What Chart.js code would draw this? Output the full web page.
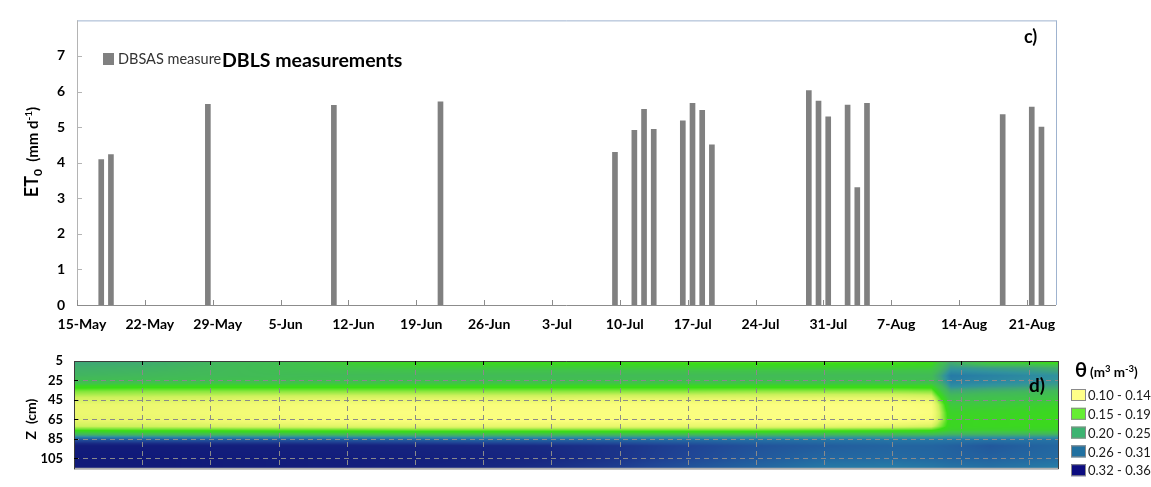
<!DOCTYPE html>
<html>
<head>
<meta charset="utf-8">
<title>ET0 and soil water content</title>
<script src="https://cdn.jsdelivr.net/npm/chart.js@4.4.1/dist/chart.umd.min.js"></script>
<style>
  html, body { margin: 0; padding: 0; background: #ffffff; }
  #wrap { position: relative; width: 1151px; height: 487px; overflow: hidden; }
  #etBox { position: absolute; left: 0; top: 0; width: 1151px; height: 340px; }
  #soilBox { position: absolute; left: 0; top: 340px; width: 1151px; height: 147px; }
</style>
</head>
<body>
<div id="wrap">
  <div id="etBox"><canvas id="etChart" width="1151" height="340"></canvas></div>
  <div id="soilBox"><canvas id="soilChart" width="1151" height="147"></canvas></div>
</div>
<script>
// ---------- dates (days counted from 15-May) ----------
const monthOffset = { May: -15, Jun: 16, Jul: 46, Aug: 77 };
function dayIndex(s) {
  const [d, m] = s.split('-');
  return monthOffset[m] + Number(d);
}
const periodDays = 101; // 15-May .. 23-Aug

// ---------- panel c: reference evapotranspiration ----------
const tickLabels = ['15-May', '22-May', '29-May', '5-Jun', '12-Jun', '19-Jun', '26-Jun', '3-Jul',
                    '10-Jul', '17-Jul', '24-Jul', '31-Jul', '7-Aug', '14-Aug', '21-Aug'];
const measureDates = ['17-May', '18-May', '28-May', '10-Jun', '21-Jun', '9-Jul', '11-Jul', '12-Jul',
                      '13-Jul', '16-Jul', '17-Jul', '18-Jul', '19-Jul', '29-Jul', '30-Jul', '31-Jul',
                      '2-Aug', '3-Aug', '4-Aug', '18-Aug', '21-Aug', '22-Aug'];
const et0Values = [4.09, 4.23, 5.64, 5.61, 5.71, 4.29, 4.91, 5.50,
                   4.94, 5.18, 5.67, 5.47, 4.50, 6.03, 5.73, 5.29,
                   5.62, 3.30, 5.67, 5.35, 5.56, 5.00];
const et0Ticks = [0, 1, 2, 3, 4, 5, 6, 7];

// ---------- panel d: soil water content θ (m3 m-3) ----------
const soilDays = [0, 7, 14, 21, 28, 35, 42, 49, 56, 63, 70, 77, 84, 88, 90, 94, 98, 101];
const soilDepths = [5, 12, 20, 27, 31, 36, 42, 50, 58, 66, 72, 76, 79, 82, 86, 92, 104, 115];
const theta05  = [.245, .240, .228, .215, .190, .178, .175, .172, .170, .165, .163, .163, .165, .170, .235, .178, .172, .158];
const theta12  = [.235, .232, .225, .215, .205, .200, .200, .200, .198, .195, .195, .195, .195, .197, .255, .250, .245, .235];
const theta20  = [.228, .225, .222, .220, .222, .222, .222, .222, .222, .222, .222, .222, .222, .222, .275, .270, .265, .260];
const theta27  = [.215, .212, .210, .210, .210, .210, .210, .210, .210, .210, .210, .210, .210, .212, .270, .265, .260, .255];
const theta31  = [.182, .180, .180, .180, .180, .180, .180, .180, .180, .180, .180, .180, .180, .182, .262, .255, .250, .245];
const theta36  = [.162, .160, .160, .160, .160, .160, .160, .160, .160, .160, .158, .158, .158, .160, .240, .232, .228, .222];
const theta42  = [.146, .145, .143, .141, .140, .140, .140, .140, .138, .138, .137, .135, .135, .138, .218, .212, .210, .205];
const theta50  = [.130, .128, .125, .120, .116, .114, .114, .114, .112, .112, .110, .108, .108, .115, .200, .198, .195, .190];
const theta58  = [.128, .126, .122, .118, .113, .110, .110, .110, .110, .110, .108, .106, .106, .112, .190, .188, .185, .182];
const theta66  = [.132, .130, .126, .120, .116, .114, .112, .112, .112, .112, .110, .110, .110, .118, .185, .183, .182, .180];
const theta72  = [.145, .143, .140, .138, .135, .133, .132, .132, .132, .132, .132, .132, .135, .140, .185, .183, .182, .182];
const theta76  = [.172, .170, .170, .168, .168, .165, .165, .165, .165, .165, .165, .168, .170, .172, .192, .192, .192, .192];
const theta79  = [.205, .200, .200, .198, .195, .195, .195, .195, .195, .195, .195, .200, .200, .200, .215, .215, .215, .215];
const theta82  = [.255, .250, .250, .250, .248, .245, .245, .245, .245, .245, .245, .245, .245, .245, .250, .250, .250, .250];
const theta86  = [.305, .300, .300, .300, .298, .295, .290, .290, .288, .285, .282, .280, .278, .278, .278, .280, .280, .280];
const theta92  = [.345, .345, .342, .340, .338, .335, .332, .328, .322, .312, .302, .295, .290, .290, .292, .298, .292, .288];
const theta104 = [.348, .348, .346, .344, .342, .340, .336, .330, .322, .310, .298, .288, .286, .288, .290, .292, .288, .285];
const theta115 = [.348, .348, .346, .344, .342, .338, .332, .325, .315, .300, .288, .275, .272, .275, .278, .280, .276, .272];
const thetaRows = [theta05, theta12, theta20, theta27, theta31, theta36, theta42, theta50, theta58,
                   theta66, theta72, theta76, theta79, theta82, theta86, theta92, theta104, theta115];
const depthTicks = [5, 25, 45, 65, 85, 105];
const classLabels = ['0.10 - 0.14', '0.15 - 0.19', '0.20 - 0.25', '0.26 - 0.31', '0.32 - 0.36'];
const classColors = ['#ffff88', '#66ee33', '#3cb371', '#2070a0', '#0c0c80'];

// continuous shading used for the θ surface
const shadeStops = [
  [0.100, 255, 255, 140], [0.115, 248, 253, 122], [0.130, 234, 247, 110], [0.145, 205, 241, 92],
  [0.160, 135, 231, 60],  [0.175, 58, 221, 22],   [0.190, 60, 210, 42],   [0.205, 64, 196, 72],
  [0.225, 66, 184, 90],   [0.245, 62, 164, 122],  [0.260, 48, 145, 158],  [0.275, 38, 122, 166],
  [0.290, 35, 100, 160],  [0.310, 32, 70, 150],   [0.330, 24, 40, 130],   [0.350, 16, 24, 120]
];
function shade(v) {
  if (v <= shadeStops[0][0]) return shadeStops[0].slice(1);
  for (let i = 1; i < shadeStops.length; i++) {
    const b = shadeStops[i];
    if (v <= b[0]) {
      const a = shadeStops[i - 1];
      const t = (v - a[0]) / (b[0] - a[0]);
      return [a[1] + t * (b[1] - a[1]), a[2] + t * (b[2] - a[2]), a[3] + t * (b[3] - a[3])];
    }
  }
  return shadeStops[shadeStops.length - 1].slice(1);
}

const FONT = 'Lato, "Open Sans", "DejaVu Sans", sans-serif';
const tickDays = tickLabels.map(dayIndex);

// draws a rotated axis title made of runs (normal / sub / superscript)
function verticalTitle(ctx, cx, cy, runs) {
  ctx.save();
  ctx.translate(cx, cy);
  ctx.rotate(-Math.PI / 2);
  let total = 0;
  runs.forEach(r => { ctx.font = r.font; r.w = ctx.measureText(r.text).width; total += r.w; });
  let x = -total / 2;
  ctx.fillStyle = '#000';
  ctx.textBaseline = 'alphabetic';
  ctx.textAlign = 'left';
  runs.forEach(r => { ctx.font = r.font; ctx.fillText(r.text, x, r.dy); x += r.w; });
  ctx.restore();
}
function seg(ctx, x1, y1, x2, y2) {
  ctx.beginPath(); ctx.moveTo(x1, y1); ctx.lineTo(x2, y2); ctx.stroke();
}

// ---------- panel c chart ----------
const etDecor = {
  id: 'etDecor',
  afterDraw(chart) {
    const { ctx, chartArea: a, scales: { x, y } } = chart;
    ctx.save();
    ctx.lineWidth = 1;
    ctx.strokeStyle = '#9fb3cf';
    seg(ctx, a.left, a.top + 0.5, a.right + 0.5, a.top + 0.5);
    seg(ctx, a.right + 0.5, a.top, a.right + 0.5, a.bottom);
    ctx.strokeStyle = '#b4b4b4';
    seg(ctx, a.left + 0.5, a.top, a.left + 0.5, a.bottom + 1);
    et0Ticks.forEach(v => { const p = Math.round(y.getPixelForValue(v)) + 0.5; seg(ctx, a.left, p, a.left + 5, p); });
    ctx.strokeStyle = '#8c8c8c';
    seg(ctx, a.left, a.bottom + 0.5, a.right, a.bottom + 0.5);
    tickDays.forEach(d => { const p = Math.round(x.getPixelForValue(d)) + 0.5; seg(ctx, p, a.bottom, p, a.bottom - 5); });

    // legend
    const ds = chart.data.datasets[0];
    ctx.fillStyle = ds.backgroundColor;
    ctx.fillRect(103, 53, 11, 12);
    ctx.textBaseline = 'middle';
    ctx.textAlign = 'left';
    ctx.font = '14.5px ' + FONT;
    ctx.fillStyle = '#333333';
    ctx.fillText(ds.label, 118, 59);
    ctx.font = 'bold 19.5px ' + FONT;
    ctx.fillStyle = '#000';
    ctx.fillText('DBLS measurements', 222, 61);
    ctx.font = 'bold 18px ' + FONT;
    ctx.fillText('c)', 1024, 37);

    verticalTitle(ctx, 38, 152, [
      { text: 'ET', font: 'bold 18px ' + FONT, dy: 0 },
      { text: '0', font: 'bold 12px ' + FONT, dy: 4 },
      { text: '  (mm d', font: 'bold 15px ' + FONT, dy: 0 },
      { text: '-1', font: 'bold 10px ' + FONT, dy: -6 },
      { text: ')', font: 'bold 15px ' + FONT, dy: 0 }
    ]);
    ctx.restore();
  }
};

new Chart(document.getElementById('etChart'), {
  type: 'bar',
  data: {
    datasets: [{
      label: 'DBSAS measure',
      data: measureDates.map((d, i) => ({ x: dayIndex(d) + 0.5, y: et0Values[i] })),
      backgroundColor: '#808080',
      borderWidth: 0,
      barThickness: 5
    }]
  },
  options: {
    responsive: false,
    devicePixelRatio: 1,
    animation: false,
    events: [],
    layout: { padding: { left: 0, right: 95, top: 11, bottom: 0 } },
    plugins: { legend: { display: false }, tooltip: { enabled: false } },
    scales: {
      x: {
        type: 'linear', min: 0, max: periodDays, offset: false,
        grid: { display: false, drawTicks: false },
        border: { display: false },
        afterBuildTicks: s => { s.ticks = tickDays.map(v => ({ value: v })); },
        afterFit: s => { s.height = 35; },
        ticks: {
          autoSkip: false, maxRotation: 0, padding: 11, labelOffset: 5,
          color: '#000', font: { family: FONT, weight: 'bold', size: 14 },
          callback: (v, i) => tickLabels[i]
        }
      },
      y: {
        min: 0, max: 8,
        grid: { display: false, drawTicks: false },
        border: { display: false },
        afterBuildTicks: s => { s.ticks = et0Ticks.map(v => ({ value: v })); },
        afterFit: s => { s.width = 77; },
        ticks: { padding: 12, color: '#000', font: { family: FONT, weight: 'bold', size: 14 } }
      }
    }
  },
  plugins: [etDecor]
});

// ---------- panel d chart ----------
const soilPoints = [];
soilDepths.forEach((z, j) => soilDays.forEach((d, i) => soilPoints.push({ x: d, y: z, v: thetaRows[j][i] })));

function bracket(arr, v) {
  let i = 0;
  while (i < arr.length - 2 && v > arr[i + 1]) i++;
  const t = Math.min(1, Math.max(0, (v - arr[i]) / (arr[i + 1] - arr[i])));
  return [i, t];
}

const soilMap = {
  id: 'soilMap',
  beforeDatasetsDraw(chart) {
    const { ctx, chartArea: a, scales: { x, y } } = chart;
    const pts = chart.data.datasets[0].data;
    const nc = soilDays.length;
    const w = Math.round(a.right - a.left), h = Math.round(a.bottom - a.top);
    const off = document.createElement('canvas');
    off.width = w; off.height = h;
    const octx = off.getContext('2d');
    const img = octx.createImageData(w, h);
    const cols = [];
    for (let px = 0; px < w; px++) cols.push(bracket(soilDays, x.getValueForPixel(a.left + px + 0.5)));
    for (let py = 0; py < h; py++) {
      const [j, u] = bracket(soilDepths, y.getValueForPixel(a.top + py + 0.5));
      for (let px = 0; px < w; px++) {
        const [i, t] = cols[px];
        const v00 = pts[j * nc + i].v, v01 = pts[j * nc + i + 1].v;
        const v10 = pts[(j + 1) * nc + i].v, v11 = pts[(j + 1) * nc + i + 1].v;
        const v = (v00 * (1 - t) + v01 * t) * (1 - u) + (v10 * (1 - t) + v11 * t) * u;
        const c = shade(v);
        const k = (py * w + px) * 4;
        img.data[k] = c[0]; img.data[k + 1] = c[1]; img.data[k + 2] = c[2]; img.data[k + 3] = 255;
      }
    }
    octx.putImageData(img, 0, 0);
    ctx.drawImage(off, a.left, a.top);
  },
  afterDraw(chart) {
    const { ctx, chartArea: a, scales: { x, y } } = chart;
    ctx.save();
    // dashed grid
    ctx.lineWidth = 1;
    ctx.strokeStyle = '#8a8a8a';
    ctx.setLineDash([5, 4]);
    tickDays.slice(1).forEach(d => { const p = Math.round(x.getPixelForValue(d)) + 0.5; seg(ctx, p, a.top, p, a.bottom); });
    depthTicks.slice(1).forEach(z => { const p = Math.round(y.getPixelForValue(z)) + 0.5; seg(ctx, a.left, p, a.right, p); });
    ctx.setLineDash([]);
    // frame
    ctx.strokeStyle = '#b0b0b0';
    ctx.lineWidth = 2;
    seg(ctx, a.left, a.bottom + 0.5, a.right, a.bottom + 0.5);
    ctx.lineWidth = 1;
    ctx.strokeStyle = '#3c3c3c';
    seg(ctx, a.left, a.top + 0.5, a.right + 1, a.top + 0.5);
    seg(ctx, a.left + 0.5, a.top, a.left + 0.5, a.bottom + 1);
    seg(ctx, a.right + 0.5, a.top, a.right + 0.5, a.bottom + 1);
    // tick marks
    ctx.strokeStyle = '#000';
    tickDays.slice(1).forEach(d => { const p = Math.round(x.getPixelForValue(d)) + 0.5; seg(ctx, p, a.top, p, a.top + 4); });
    depthTicks.slice(1).forEach(z => { const p = Math.round(y.getPixelForValue(z)) + 0.5; seg(ctx, a.left, p, a.left + 4, p); });

    ctx.fillStyle = '#000';
    ctx.textBaseline = 'middle';
    ctx.textAlign = 'left';
    ctx.font = 'bold 19px ' + FONT;
    ctx.fillText('d)', 1029, 46);

    // class legend
    ctx.font = 'bold 20px ' + FONT;
    ctx.fillText('θ', 1075, 31);
    let lx = 1090;
    const unit = [['(m', 13.5, 0], ['3', 9.5, -4], [' m', 13.5, 0], ['-3', 9.5, -4], [')', 13.5, 0]];
    unit.forEach(([s, f, dy]) => {
      ctx.font = 'bold ' + f + 'px ' + FONT;
      ctx.fillText(s, lx, 33 + dy);
      lx += ctx.measureText(s).width;
    });
    ctx.font = '13px ' + FONT;
    classLabels.forEach((lab, k) => {
      const cy = 55 + k * 18.8;
      ctx.fillStyle = classColors[k];
      ctx.fillRect(1071, cy - 6, 15, 12);
      ctx.strokeStyle = '#8a8a8a';
      ctx.lineWidth = 1;
      ctx.strokeRect(1071.5, cy - 5.5, 14, 11);
      ctx.fillStyle = '#1a1a1a';
      ctx.fillText(lab, 1088, cy + 1);
    });

    verticalTitle(ctx, 36, 79, [
      { text: 'Z  (cm)', font: 'bold 14px ' + FONT, dy: 0 }
    ]);
    ctx.restore();
  }
};

new Chart(document.getElementById('soilChart'), {
  type: 'scatter',
  data: {
    datasets: [{
      label: 'θ (m3 m-3)',
      data: soilPoints,
      pointRadius: 0,
      pointHoverRadius: 0,
      showLine: false
    }]
  },
  options: {
    responsive: false,
    devicePixelRatio: 1,
    animation: false,
    events: [],
    layout: { padding: { left: 0, right: 93, top: 21, bottom: 0 } },
    plugins: { legend: { display: false }, tooltip: { enabled: false } },
    scales: {
      x: {
        type: 'linear', min: 0, max: periodDays,
        grid: { display: false, drawTicks: false },
        border: { display: false },
        ticks: { display: false },
        afterFit: s => { s.height = 10; }
      },
      y: {
        type: 'linear', min: 5, max: 115, reverse: true,
        grid: { display: false, drawTicks: false },
        border: { display: false },
        afterBuildTicks: s => { s.ticks = depthTicks.map(v => ({ value: v })); },
        afterFit: s => { s.width = 74; },
        ticks: { padding: 11, color: '#000', font: { family: FONT, weight: 'bold', size: 13 } }
      }
    }
  },
  plugins: [soilMap]
});
</script>
</body>
</html>
